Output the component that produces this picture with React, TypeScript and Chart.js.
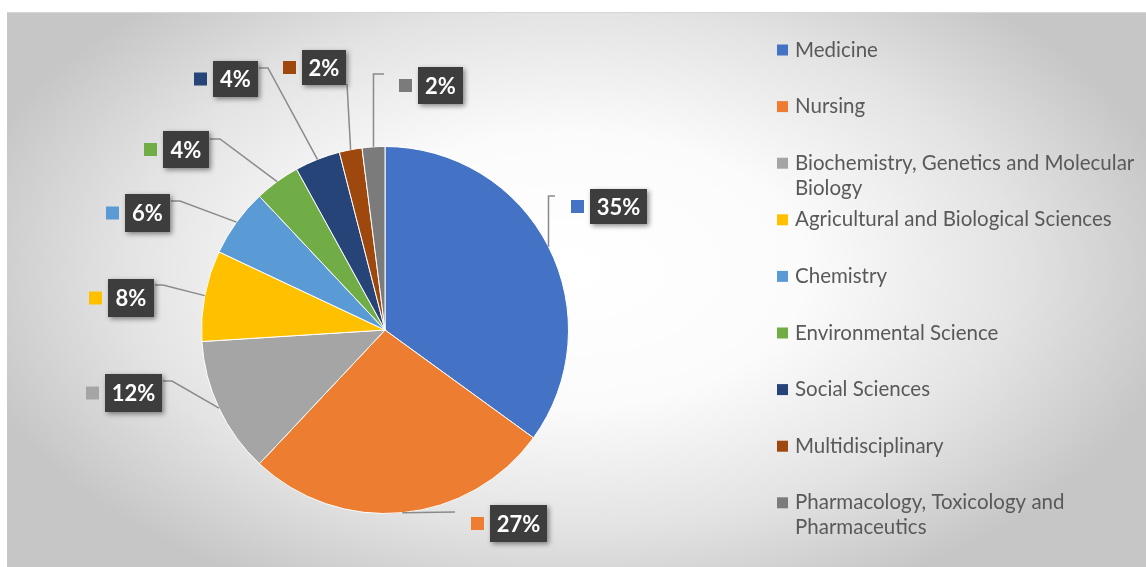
import React, { useEffect, useRef } from "react";
import { Chart, registerables } from "chart.js";

Chart.register(...registerables);

// ---- data ----
const categories = [
  "Medicine",
  "Nursing",
  "Biochemistry, Genetics and Molecular Biology",
  "Agricultural and Biological Sciences",
  "Chemistry",
  "Environmental Science",
  "Social Sciences",
  "Multidisciplinary",
  "Pharmacology, Toxicology and Pharmaceutics",
];
const values = [35, 27, 12, 8, 6, 4, 4, 2, 2];
const colors = [
  "#4472C4",
  "#ED7D31",
  "#A5A5A5",
  "#FFC000",
  "#5B9BD5",
  "#70AD47",
  "#264478",
  "#9E480E",
  "#7B7B7B",
];

// ---- layout of data labels (box x, y, w, h) ----
const labelBoxes: number[][] = [
  [590, 189, 57, 35],
  [490, 505, 57, 37],
  [105, 374, 57, 38],
  [108, 279, 46, 38],
  [125, 194, 45, 38],
  [163, 131, 46, 37],
  [213, 61, 45, 36],
  [302, 50, 44, 35],
  [418, 67, 45, 37],
];
// leader points from label side toward pie edge; null x => use edge x
const leaderPoints: (number | null)[][][] = [
  [[555, 196], [null, 196]],
  [[455, 512]],
  [[163, 381], [172, 381]],
  [[155, 285], [163, 285]],
  [[171, 201], [180, 201]],
  [[210, 139], [220, 139]],
  [[259, 68], [268, 68]],
  [[347, 84]],
  [[384, 74], [null, 74]],
];

const W = 1146;
const H = 567;
const FONT = "Lato, 'Open Sans', 'DejaVu Sans', sans-serif";

const backgroundPlugin = {
  id: "bgPanel",
  beforeDraw(chart: any) {
    const ctx = chart.ctx as CanvasRenderingContext2D;
    ctx.save();
    ctx.fillStyle = "#ffffff";
    ctx.fillRect(0, 0, W, H);
    const cx = 570, cy = 270, rx = 620, ry = 360;
    ctx.translate(cx, cy);
    ctx.scale(1, ry / rx);
    const g = ctx.createRadialGradient(0, 0, 0, 0, 0, rx);
    g.addColorStop(0, "#ffffff");
    g.addColorStop(0.38, "#fbfbfb");
    g.addColorStop(0.72, "#e3e3e3");
    g.addColorStop(1, "#c6c6c6");
    ctx.fillStyle = g;
    const k = rx / ry;
    ctx.fillRect(7 - cx, (12 - cy) * k, W - 7, (H - 12) * k);
    ctx.restore();
    ctx.save();
    ctx.strokeStyle = "#d6d6d6";
    ctx.lineWidth = 1;
    ctx.beginPath();
    ctx.moveTo(7, 12.5);
    ctx.lineTo(W, 12.5);
    ctx.stroke();
    ctx.restore();
  },
};

function wrapText(ctx: CanvasRenderingContext2D, text: string, maxW: number): string[] {
  const words = text.split(" ");
  const lines: string[] = [];
  let cur = "";
  for (const w of words) {
    const test = cur ? cur + " " + w : w;
    if (ctx.measureText(test).width > maxW && cur) {
      lines.push(cur);
      cur = w;
    } else cur = test;
  }
  if (cur) lines.push(cur);
  return lines;
}

const labelsPlugin = {
  id: "customLabels",
  afterDraw(chart: any) {
    const ctx = chart.ctx as CanvasRenderingContext2D;
    const meta = chart.getDatasetMeta(0);
    const data = chart.data.datasets[0].data as number[];
    const bg = chart.data.datasets[0].backgroundColor as string[];
    meta.data.forEach((arc: any, i: number) => {
      const p = arc.getProps(["x", "y", "startAngle", "endAngle", "outerRadius"], true);
      const mid = (p.startAngle + p.endAngle) / 2;
      const ex = p.x + Math.cos(mid) * p.outerRadius;
      const ey = p.y + Math.sin(mid) * p.outerRadius;
      // leader line
      ctx.save();
      ctx.strokeStyle = "#8a8a8a";
      ctx.lineWidth = 1.5;
      ctx.beginPath();
      const pts = leaderPoints[i];
      pts.forEach((pt, j) => {
        const px = pt[0] === null ? ex : (pt[0] as number);
        const py = pt[1] as number;
        if (j === 0) ctx.moveTo(px, py);
        else ctx.lineTo(px, py);
      });
      ctx.lineTo(ex, ey);
      ctx.stroke();
      ctx.restore();

      // box
      const [bx, by, bw, bh] = labelBoxes[i];
      ctx.save();
      ctx.shadowColor = "rgba(0,0,0,0.45)";
      ctx.shadowBlur = 5;
      ctx.shadowOffsetX = 2;
      ctx.shadowOffsetY = 2;
      ctx.fillStyle = "#3d3d3d";
      ctx.fillRect(bx, by, bw, bh);
      ctx.restore();

      ctx.save();
      ctx.fillStyle = "#ffffff";
      ctx.font = `bold 22px ${FONT}`;
      ctx.textAlign = "center";
      ctx.textBaseline = "middle";
      ctx.fillText(`${data[i]}%`, bx + bw / 2, by + bh / 2 + 1);
      ctx.restore();

      // color key square
      ctx.save();
      ctx.fillStyle = bg[i];
      ctx.fillRect(bx - 19, by + bh / 2 - 6.5, 13, 13);
      ctx.restore();
    });

    // legend
    ctx.save();
    ctx.font = `20.5px ${FONT}`;
    ctx.textBaseline = "middle";
    ctx.textAlign = "left";
    const labels = chart.data.labels as string[];
    labels.forEach((lab, i) => {
      const cy = 50 + i * 56.6;
      ctx.fillStyle = bg[i];
      ctx.fillRect(777, cy - 5.5, 11, 11);
      ctx.fillStyle = "#595959";
      const lines = wrapText(ctx, lab, 349);
      lines.forEach((ln, j) => {
        ctx.fillText(ln, 795, cy + j * 25);
      });
    });
    ctx.restore();
  },
};

export default function App() {
  const ref = useRef<HTMLCanvasElement | null>(null);
  useEffect(() => {
    document.body.style.margin = "0";
    if (!ref.current) return;
    const chart = new Chart(ref.current, {
      type: "pie",
      data: {
        labels: categories,
        datasets: [
          {
            data: values,
            backgroundColor: colors,
            borderColor: "#ffffff",
            borderWidth: 1,
          },
        ],
      },
      options: {
        responsive: false,
        animation: false,
        devicePixelRatio: 1,
        layout: { padding: { left: 201, right: 577, top: 146, bottom: 53 } },
        plugins: {
          legend: { display: false },
          tooltip: { enabled: false },
        },
      },
      plugins: [backgroundPlugin, labelsPlugin],
    });
    return () => chart.destroy();
  }, []);
  return (
    <div style={{ width: W, height: H }}>
      <canvas ref={ref} width={W} height={H} style={{ display: "block" }} />
    </div>
  );
}
